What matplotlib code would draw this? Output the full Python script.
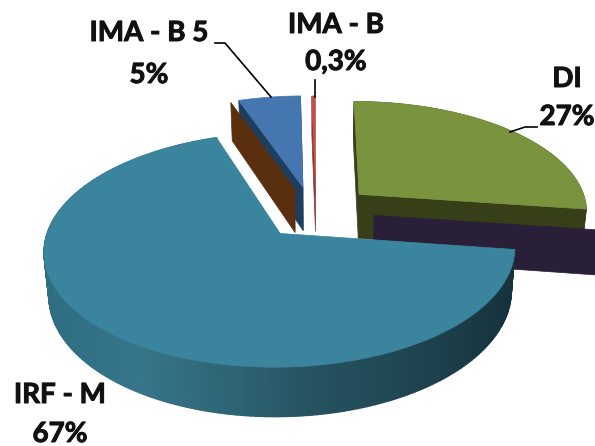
import numpy as np
import matplotlib
matplotlib.use("Agg")
import matplotlib.pyplot as plt
import matplotlib.patheffects as pe
from matplotlib.colors import LinearSegmentedColormap
from matplotlib.patches import Polygon

names = ["DI", "IRF - M", "IMA - B 5", "IMA - B"]
values = [27, 67, 5, 0.3]
value_labels = ["27%", "67%", "5%", "0,3%"]
top_colors = ["#7A933F", "#3B849E", "#4576B0", "#C0504D"]
wall_colors = ["#363F18", "#25505E", "#1D3E5F", "#8E2F2C"]
explode = [0.245, 0.23, 0.28, 0.25]
radius = [0.985, 0.975, 1.0, 1.0]
nudge = [(2, -3), (0, -2), (-1, 2), (1, 0)]

# pie plane -> pixels, simple perspective
CX, CY, RX, RY, K, DEPTH = 315.0, 215.0, 233.0, 112.0, 0.141, 45.0

wall_cmap = LinearSegmentedColormap.from_list(
    "wall", ["#2F6E82", "#37758A", "#2E6474", "#25505E", "#1E4450", "#16323C"])


def project(u, v, z=0.0):
    w = 1 + K * v
    x = CX + RX * u / (w * (1 + 0.02 * z))
    y = CY - RY * v / w + DEPTH * z / w
    return np.column_stack([x, y])


def slice_geometry(i):
    """Apex and rim of slice i in the pie plane, going clockwise from 12 o'clock."""
    fr = np.array(values) / sum(values) * 360
    a0 = 90 - fr[:i].sum()
    a1 = a0 - fr[i]
    mid = np.radians((a0 + a1) / 2)
    u0, v0 = explode[i] * np.cos(mid), explode[i] * np.sin(mid)
    t = np.radians(np.linspace(a0, a1, 240))
    return u0, v0, u0 + radius[i] * np.cos(t), v0 + radius[i] * np.sin(t)


def top_face(ax, i):
    u0, v0, u, v = slice_geometry(i)
    pts = project(np.r_[u0, u], np.r_[v0, v]) + nudge[i]
    ax.add_patch(Polygon(pts, closed=True, fc=top_colors[i], ec=top_colors[i], lw=0.5))


def cut_wall(ax, i, end, color=None, offset=(0, 0), z=1.0):
    """Flat face under one cut edge, end 0 = first edge, -1 = last edge."""
    u0, v0, u, v = slice_geometry(i)
    us, vs = np.array([u0, u[end]]), np.array([v0, v[end]])
    a = project(us, vs) + nudge[i] + offset
    b = project(us, vs, z) + nudge[i] + offset
    pts = np.vstack([a, b[::-1]])
    c = color or wall_colors[i]
    ax.add_patch(Polygon(pts, closed=True, fc=c, ec=c, lw=0.5))


def rim_wall(ax, i, shaded=False, z=1.0):
    u0, v0, u, v = slice_geometry(i)
    a = project(u, v) + nudge[i]
    b = project(u, v, z) + nudge[i]
    if not shaded:
        pts = np.vstack([a, b[::-1]])
        ax.add_patch(Polygon(pts, closed=True, fc=wall_colors[i], ec=wall_colors[i], lw=0.5))
        return
    for j in range(len(u) - 1):
        pts = [a[j], a[j + 1], b[j + 1], b[j]]
        c = wall_cmap((a[j, 0] - 45) / (516 - 45))
        ax.add_patch(Polygon(pts, closed=True, fc=c, ec=c, lw=1.0))


fig = plt.figure(figsize=(5.95, 4.46), dpi=100)
ax = fig.add_axes([0, 0, 1, 1])
ax.set_xlim(0, 595)
ax.set_ylim(446, 0)
ax.axis("off")

# DI, with the dark side panel sitting in front of its cut face
rim_wall(ax, 0)
cut_wall(ax, 0, 0)
cut_wall(ax, 0, -1)
cut_wall(ax, 0, -1, color="#2A1F38", offset=(15, 21))
top_face(ax, 0)

# IMA - B 5 and its brown panel
cut_wall(ax, 2, 0)
cut_wall(ax, 2, -1)
cut_wall(ax, 2, 0, color="#5A2F10", offset=(-8, 2))
top_face(ax, 2)

# IMA - B sliver
cut_wall(ax, 3, 0)
top_face(ax, 3)

# IRF - M goes last, it covers everything behind it
rim_wall(ax, 1, shaded=True, z=0.92)
top_face(ax, 1)

# leader lines
ax.plot([215, 225, 271], [43, 43, 97], color="black", lw=1.2)
ax.plot([315, 315], [80, 97], color="black", lw=1.2)
ax.plot([537, 525, 510], [127, 127, 132], color="black", lw=1.2)

heavy = [pe.withStroke(linewidth=0.7, foreground="#111111")]
label_pos = {0: (567, 79, 117), 1: (60, 395, 434), 2: (149, 33, 75), 3: (336, 25, 62)}
for i, (x, y1, y2) in label_pos.items():
    ax.text(x, y1, names[i], family="Lato", weight="bold", fontsize=20,
            ha="center", va="center", color="#111111", path_effects=heavy)
    ax.text(x, y2, value_labels[i], family="Lato", weight="bold", fontsize=20,
            ha="center", va="center", color="#111111", path_effects=heavy)

fig.savefig("out.png", dpi=100)
